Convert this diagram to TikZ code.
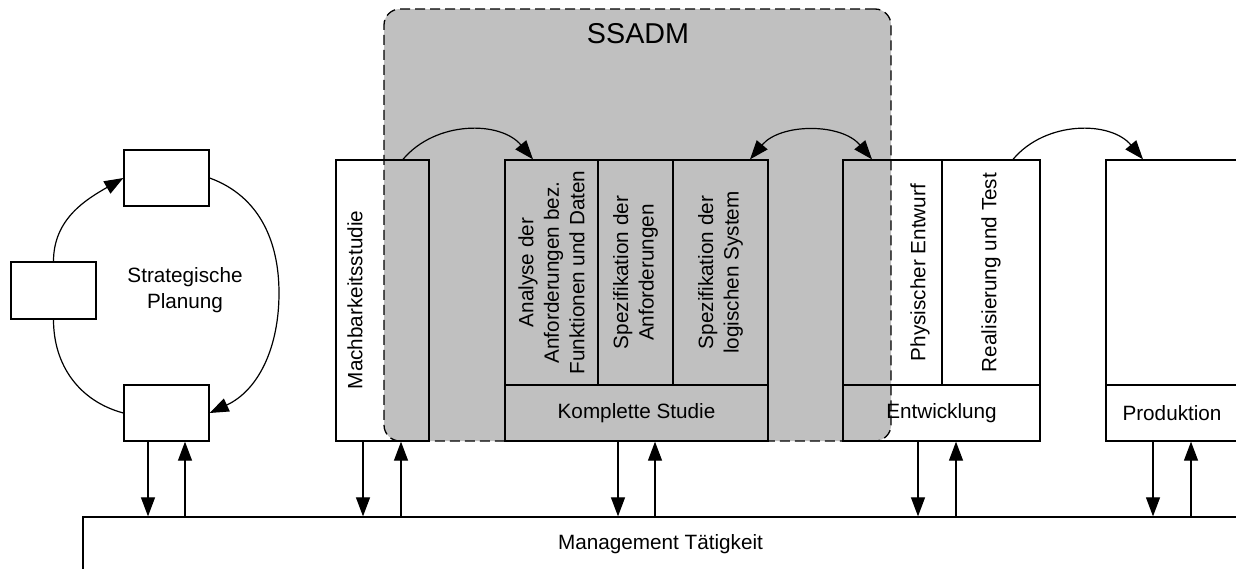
\documentclass[tikz,border=0pt]{standalone}
\usepackage{fontspec}
\setmainfont{Liberation Sans}
\usetikzlibrary{arrows.meta}
\definecolor{sgray}{HTML}{C0C0C0}
\newcommand\diafont{\fontsize{20.7}{25.5}\selectfont}
\newcommand\titlefont{\fontsize{28.7}{34}\selectfont}
\begin{document}
\begin{tikzpicture}[x=1pt,y=1pt,
  box/.style={draw, line width=1.3pt, inner sep=0pt, font=\diafont},
  txt/.style={inner sep=0pt, font=\diafont, align=center},
  vtxt/.style={txt, rotate=90},
  ssadmbox/.style={draw, fill=sgray, line width=1.3pt, dash pattern=on 10pt off 5pt,
                   rounded corners=16pt, inner sep=0pt},
  link/.style={line width=1.2pt},
  arr/.style={link, -{Triangle[length=19pt,width=14pt]}},
  darr/.style={link, {Triangle[length=19pt,width=14pt]}-{Triangle[length=19pt,width=14pt]}}]
\useasboundingbox (0,0) rectangle (1236,-568);
\clip (0,0) rectangle (1236,-568);

% SSADM area (drawn first, the phase boxes lie on top of it)
\node[ssadmbox, minimum width=507, minimum height=432] (ssadm) at (637.5,-225) {};
\node[inner sep=0pt, font=\titlefont] (ssadmt) at (638,-34) {SSADM};

% strategic planning cycle
\node[box, minimum width=85, minimum height=56] (s1) at (166.5,-178) {};
\node[box, minimum width=85, minimum height=57] (s2) at (53.5,-290.5) {};
\node[box, minimum width=85, minimum height=56] (s3) at (166.5,-413) {};
\node[txt] (splan) at (185,-290) {Strategische\\Planung};
\coordinate (sr) at (279,-293);
\draw[arr] (s2.north) to[out=90,in=210] (s1.west);
\draw[arr] (s1.east) to[out=-20,in=90] (sr) to[out=-90,in=25] (s3.east);
\draw[link] (s3.west) to[out=165,in=-90] (s2.south);

% feasibility study
\node[box, minimum width=93, minimum height=281] (mb) at (382.5,-300.5) {};
\node[vtxt] (mbt) at (355,-300) {Machbarkeitsstudie};

% complete study
\node[box, minimum width=93, minimum height=225] (k1) at (551.5,-272.5) {};
\node[box, minimum width=75, minimum height=225] (k2) at (635.5,-272.5) {};
\node[box, minimum width=95, minimum height=225] (k3) at (720.5,-272.5) {};
\node[box, minimum width=263, minimum height=56] (k4) at (636.5,-413) {Komplette Studie};
\node[vtxt] (k1t) at (k1.center) {Analyse der\\Anforderungen bez.\\Funktionen und Daten};
\node[vtxt] (k2t) at (k2.center) {Spezifikation der\\Anforderungen};
\node[vtxt] (k3t) at (k3.center) {Spezifikation der\\logischen System};

% development
\node[box, minimum width=99, minimum height=225] (e1) at (892.5,-272.5) {};
\node[box, minimum width=98, minimum height=225] (e2) at (991,-272.5) {};
\node[box, minimum width=197, minimum height=56] (e3) at (941.5,-413) {Entwicklung};
\node[vtxt] (e1t) at (920,-272.5) {Physischer Entwurf};
\node[vtxt] (e2t) at (e2.center) {Realisierung und Test};

% production
\node[box, minimum width=132, minimum height=225] (p1) at (1172,-272.5) {};
\node[box, minimum width=132, minimum height=56] (p2) at (1172,-413) {Produktion};

% management activity
\node[box, minimum width=1155, minimum height=55] (mg) at (660.5,-544.5) {Management T\"atigkeit};

% flow between the phases
\draw[arr] ([xshift=20.5pt]mb.north) to[out=50,in=130] ([xshift=-18.5pt]k1.north);
\draw[darr] ([xshift=29.5pt]k3.north) to[out=50,in=130] ([xshift=-20.5pt]e1.north);
\draw[arr] ([xshift=22pt]e2.north) to[out=50,in=130] ([xshift=-29pt]p1.north);

% exchange with the management activity
\draw[arr] ([xshift=-18.5pt]s3.south) -- ([xshift=-18.5pt]s3.south |- mg.north);
\draw[arr] ([xshift=18.5pt]s3.south |- mg.north) -- ([xshift=18.5pt]s3.south);
\draw[arr] ([xshift=-19.5pt]mb.south) -- ([xshift=-19.5pt]mb.south |- mg.north);
\draw[arr] ([xshift=18.5pt]mb.south |- mg.north) -- ([xshift=18.5pt]mb.south);
\draw[arr] ([xshift=-18.5pt]k4.south) -- ([xshift=-18.5pt]k4.south |- mg.north);
\draw[arr] ([xshift=18.5pt]k4.south |- mg.north) -- ([xshift=18.5pt]k4.south);
\draw[arr] ([xshift=-23.5pt]e3.south) -- ([xshift=-23.5pt]e3.south |- mg.north);
\draw[arr] ([xshift=14.5pt]e3.south |- mg.north) -- ([xshift=14.5pt]e3.south);
\draw[arr] ([xshift=-19pt]p2.south) -- ([xshift=-19pt]p2.south |- mg.north);
\draw[arr] ([xshift=19pt]p2.south |- mg.north) -- ([xshift=19pt]p2.south);
\end{tikzpicture}
\end{document}
